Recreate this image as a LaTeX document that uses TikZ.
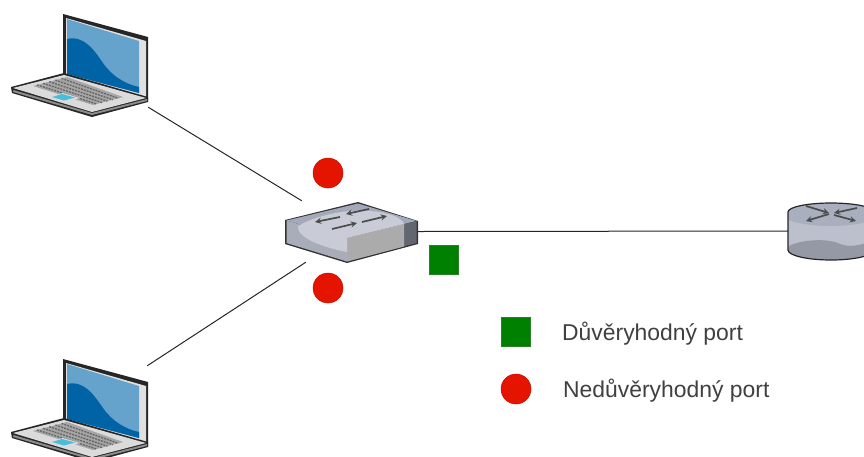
\documentclass[tikz,border=0pt]{standalone}
\usepackage{fontspec}
\setmainfont{Liberation Sans}
\definecolor{scr}{HTML}{66A3CC}
\definecolor{scrdark}{HTML}{0063A6}
\definecolor{portred}{HTML}{E51400}
\definecolor{portgreen}{HTML}{008000}
\definecolor{swtop}{HTML}{A3A9B8}
\definecolor{swin}{HTML}{C9CCD7}
\definecolor{swfront}{HTML}{A8ADB9}
\definecolor{swright}{HTML}{62676F}
\definecolor{rtbody}{HTML}{BCC0CC}
\definecolor{rttop}{HTML}{A9AFBF}
\definecolor{rtlow}{HTML}{9599A6}
\tikzset{
  link/.style={draw=black!85,line width=1pt},
  redport/.style={circle,fill=portred,draw=portred!85!black,line width=.5pt,minimum size=30pt,inner sep=0pt},
  greenport/.style={rectangle,fill=portgreen,draw=portgreen!70!gray,line width=.8pt,minimum size=29pt,inner sep=0pt},
  legendtext/.style={font=\fontsize{22.9}{26}\selectfont,text=black!75,anchor=base west,inner sep=0pt},
  hostbox/.style={inner sep=0pt,minimum width=136pt},
  iconarrow/.style={black!70,line width=1.7pt,-stealth},
  laptop/.pic={
    % screen
    \fill[black!85] (63,14) -- (148,37) -- (148,101) -- (63,78) -- cycle;
    \fill[black!12] (66,18) -- (146,41) -- (146,99) -- (66,76) -- cycle;
    \fill[scr] (67,19) -- (139,41) -- (139,93) -- (67,74) -- cycle;
    \fill[scrdark] (67,39) .. controls (84,35) and (94,50) .. (103,63)
       .. controls (112,76) and (125,84) .. (139,87) -- (139,93) -- (67,74) -- cycle;
    % base
    \fill[black!85] (11,87) -- (64,73) -- (148,97) -- (148,102) -- (92,117) -- (12,93) -- cycle;
    \fill[black!14] (13,88) -- (64,75) -- (146,98) -- (92,112) -- cycle;
    \fill[black!45] (13.5,90) -- (92,113) -- (147,99) -- (147,101) -- (92,115) -- (13,92) -- cycle;
    % keyboard
    \fill[black!35] (33,86) -- (67,77) -- (123,97) -- (93,105) -- cycle;
    \foreach \t in {0.12,0.3,0.48,0.66,0.84}{
      \draw[black!60,line width=1.3pt,dash pattern=on 2pt off 1pt]
        ({33+34*\t},{86-9*\t}) -- ({93+30*\t},{105-8*\t});
    }
    % touchpad
    \fill[black!14] (48,97.5) -- (63,93) -- (80,98) -- (65,102.5) -- cycle;
    \fill[scr!70!cyan] (52,97) -- (62,94) -- (75,97.5) -- (64,100.5) -- cycle;
  }
}
\begin{document}
\begin{tikzpicture}[x=1pt,y=-1pt]
\useasboundingbox (0,0) rectangle (864,456);
\clip (0,0) rectangle (864,456);
\fill[white] (0,0) rectangle (864,456);

% laptops
\pic at (0,0) {laptop};
\pic at (0,345) {laptop};
\node[hostbox,minimum height=92pt] (laptopA) at (80,61) {};
\node[hostbox,minimum height=84pt] (laptopB) at (79,408) {};

% switch
\fill[black!80] (285,220) -- (358,202) -- (418,221) -- (418,244) -- (347,263) -- (285,244) -- cycle;
\fill[swtop] (286.5,220.5) -- (358,203.5) -- (416.5,221) -- (347,238) -- cycle;
\fill[swfront] (286.5,220.5) -- (347,238) -- (347,261.5) -- (286.5,243) -- cycle;
\fill[swright] (347,238) -- (416.5,221) -- (416.5,243) -- (347,261.5) -- cycle;
\fill[black!33] (347,238) -- (404,224) -- (404,246.5) -- (347,261.5) -- cycle;
\fill[swin] (298,226) .. controls (320,213) and (360,206) .. (388,214)
  .. controls (398,216) and (404,222) .. (404,224) -- (347,238) -- (347,252)
  .. controls (325,248) and (296,238) .. (298,226) -- cycle;
\foreach \a/\b in {{340,217}/{315,222},{369,209}/{346,214},{332,229}/{357,223},{362,222}/{387,216}}{
  \draw[iconarrow] (\a) -- (\b);
}
\node[inner sep=0pt,minimum width=116pt,minimum height=61pt] (switch) at (360,231.5) {};

% router
\fill[rtbody] (788,212) -- (788,250) arc[start angle=180,end angle=360,x radius=43pt,y radius=10pt] -- (874,212) -- cycle;
\fill[rtlow] (789,246) .. controls (800,240) and (825,238) .. (838,243) .. controls (848,248) and (860,246) .. (874,240) -- (874,250) arc[start angle=0,end angle=180,x radius=43pt,y radius=-10pt] -- cycle;
\fill[rttop] (831,212) ellipse[x radius=43pt,y radius=9pt];
\fill[rttop] (788,212) -- (788,220) .. controls (810,228) and (850,228) .. (874,220) -- (874,212) -- cycle;
\draw[black!85,line width=1.2pt] (788,250) -- (788,212) arc[start angle=180,end angle=0,x radius=43pt,y radius=9pt];
\draw[black!85,line width=1.2pt] (788,250) arc[start angle=180,end angle=360,x radius=43pt,y radius=10pt];
\foreach \a/\b in {{806,206}/{829,213},{829,214}/{806,221},{857,208}/{834,213},{834,215}/{856,221}}{
  \draw[iconarrow] (\a) -- (\b);
}
\node[inner sep=0pt,minimum width=86pt,minimum height=58pt] (router) at (831,231) {};

% connectors
\draw[link] (laptopA.south east) -- (switch.north west);
\draw[link] (laptopB.north east) -- ([xshift=4pt]switch.south west);
\draw[link] (switch.east) -- (router.west);

% ports
\node[redport] (portTop) at (328,173) {};
\node[redport] (portBottom) at (328,288) {};
\node[greenport] (portUp) at (443.5,259.5) {};

% legend
\node[greenport,minimum size=29pt] (legendGreen) at (515.5,331.5) {};
\node[redport] (legendRed) at (516,389) {};
\node[legendtext] (legendTrusted) at (562,340) {Důvěryhodný port};
\node[legendtext] (legendUntrusted) at (563,397) {Nedůvěryhodný port};
\end{tikzpicture}
\end{document}
